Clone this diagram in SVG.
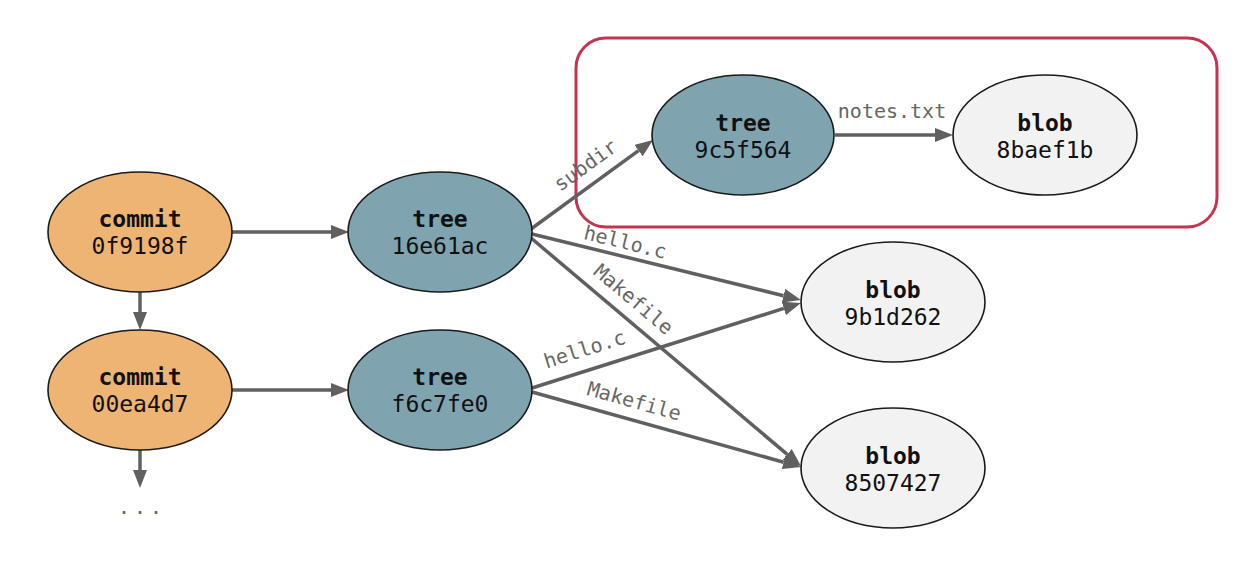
<svg xmlns="http://www.w3.org/2000/svg" width="1243" height="565" viewBox="0 0 1243 565">
<style>
.node ellipse{stroke:#1a1a1a;stroke-width:1.6}
.commit ellipse{fill:#eeb473}
.tree ellipse{fill:#7fa4b0}
.blob ellipse{fill:#f2f2f2}
.t1{font-family:"DejaVu Sans Mono","Liberation Mono",monospace;font-size:23px;font-weight:bold;fill:#111;text-anchor:middle}
.t2{font-family:"DejaVu Sans Mono","Liberation Mono",monospace;font-size:23px;fill:#111;text-anchor:middle}
.edge{stroke:#606060;stroke-width:3.5;fill:none;marker-end:url(#ah)}
.lbl{font-family:"DejaVu Sans Mono","Liberation Mono",monospace;font-size:20px;fill:#666;text-anchor:middle}
</style>
<defs>
<marker id="ah" markerUnits="userSpaceOnUse" markerWidth="18" markerHeight="14" viewBox="0 -7 18 14" refX="0" refY="0" orient="auto">
<path d="M0,-7 L18,0 L0,7 z" fill="#606060"/>
</marker>
</defs>
<rect width="1243" height="565" fill="#ffffff"/>
<rect id="group-box" x="576" y="38" width="641" height="189" rx="30" ry="30" fill="none" stroke="#c4344f" stroke-width="3"/>
<g id="connectors">
<line class="edge" x1="232" y1="232" x2="331" y2="232"/>
<line class="edge" x1="140" y1="292" x2="140" y2="312"/>
<line class="edge" x1="232" y1="390" x2="331" y2="390"/>
<line class="edge" x1="140" y1="450" x2="140" y2="470"/>
<line class="edge" x1="531" y1="229" x2="638.5" y2="150.6"/>
<line class="edge" x1="532" y1="234" x2="783.5" y2="295.7"/>
<line class="edge" x1="531" y1="238" x2="787.2" y2="454.4"/>
<line class="edge" x1="532" y1="388" x2="783.8" y2="308.4"/>
<line class="edge" x1="532" y1="392" x2="783.7" y2="462.2"/>
<line class="edge" x1="835" y1="135" x2="935" y2="135"/>
<text class="lbl" transform="translate(586,166) rotate(-36)" y="6">subdir</text>
<text class="lbl" transform="translate(625,243) rotate(13.8)" y="6">hello.c</text>
<text class="lbl" transform="translate(633,300) rotate(40.2)" y="6">Makefile</text>
<text class="lbl" transform="translate(585,350) rotate(-17.5)" y="6">hello.c</text>
<text class="lbl" transform="translate(634,402) rotate(15.6)" y="6">Makefile</text>
<text class="lbl" x="892" y="118">notes.txt</text>
<text class="lbl" x="142" y="514" letter-spacing="4">...</text>
</g>
<g id="commit-0f9198f" class="node commit">
<ellipse cx="140" cy="232" rx="92" ry="60"/>
<text class="t1" x="140" y="227">commit</text>
<text class="t2" x="140" y="254">0f9198f</text>
</g>
<g id="commit-00ea4d7" class="node commit">
<ellipse cx="140" cy="390" rx="92" ry="60"/>
<text class="t1" x="140" y="385">commit</text>
<text class="t2" x="140" y="412">00ea4d7</text>
</g>
<g id="tree-16e61ac" class="node tree">
<ellipse cx="440" cy="232" rx="92" ry="60"/>
<text class="t1" x="440" y="227">tree</text>
<text class="t2" x="440" y="254">16e61ac</text>
</g>
<g id="tree-f6c7fe0" class="node tree">
<ellipse cx="440" cy="390" rx="92" ry="60"/>
<text class="t1" x="440" y="385">tree</text>
<text class="t2" x="440" y="412">f6c7fe0</text>
</g>
<g id="tree-9c5f564" class="node tree">
<ellipse cx="743" cy="135" rx="91" ry="60"/>
<text class="t1" x="743" y="131">tree</text>
<text class="t2" x="743" y="158">9c5f564</text>
</g>
<g id="blob-8baef1b" class="node blob">
<ellipse cx="1045" cy="135" rx="92" ry="60"/>
<text class="t1" x="1045" y="131">blob</text>
<text class="t2" x="1045" y="158">8baef1b</text>
</g>
<g id="blob-9b1d262" class="node blob">
<ellipse cx="893" cy="302" rx="92" ry="60"/>
<text class="t1" x="893" y="298">blob</text>
<text class="t2" x="893" y="325">9b1d262</text>
</g>
<g id="blob-8507427" class="node blob">
<ellipse cx="893" cy="468" rx="92" ry="60"/>
<text class="t1" x="893" y="464">blob</text>
<text class="t2" x="893" y="491">8507427</text>
</g>
</svg>
